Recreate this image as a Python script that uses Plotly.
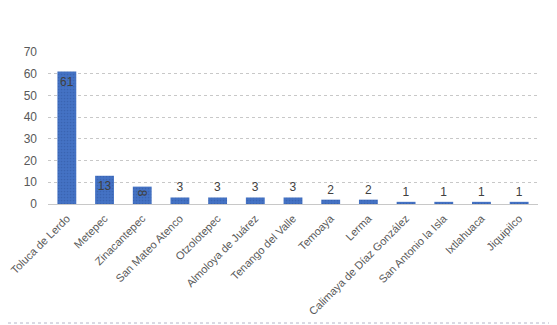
import plotly.graph_objects as go

municipios = ["Toluca de Lerdo", "Metepec", "Zinacantepec", "San Mateo Atenco", "Otzolotepec",
              "Almoloya de Juárez", "Tenango del Valle", "Temoaya", "Lerma",
              "Calimaya de Díaz González", "San Antonio la Isla", "Ixtlahuaca", "Jiquipilco"]
valores = [61, 13, 8, 3, 3, 3, 3, 2, 2, 1, 1, 1, 1]
y_ticks = [0, 10, 20, 30, 40, 50, 60, 70]

# page body has an 8px offset; size the figure to fill the rest of the window
OFF = 8
W, H = 557 - OFF, 325 - OFF
ml, mr, mt, mb = 48 - OFF, 19, 52 - OFF, 121
pw, ph = W - ml - mr, H - mt - mb

fig = go.Figure(go.Bar(
    x=municipios, y=valores,
    text=[str(v) for v in valores],
    textposition=["inside" if v >= 8 else "outside" for v in valores],
    insidetextanchor="end",
    constraintext="none",
    textfont=dict(family="Liberation Sans, Arial", size=12, color="#404040"),
    marker=dict(color="#4472C4", line=dict(width=0),
                pattern=dict(shape=".", fgcolor="#2f55a0", size=3, solidity=0.25)),
    cliponaxis=False,
))

fig.update_layout(
    width=W, height=H,
    margin=dict(l=ml, r=mr, t=mt, b=mb, autoexpand=False),
    paper_bgcolor="white", plot_bgcolor="white",
    bargap=0.5,
    showlegend=False,
    font=dict(family="Liberation Sans, Arial", size=11, color="#595959"),
    xaxis=dict(tickangle=-45, showgrid=False, showline=False, ticks="", automargin=False,
               ticklabelstandoff=5,
               tickfont=dict(size=11, color="#595959")),
    yaxis=dict(range=[0, 70], tickvals=y_ticks, showgrid=True, gridcolor="#c8c8c8",
               griddash="dot", zeroline=True, zerolinecolor="#c8c8c8", zerolinewidth=1,
               showline=False, ticks="", ticklabelstandoff=10, automargin=False,
               tickfont=dict(size=12, color="#595959")),
    shapes=[dict(type="line", xref="paper", yref="paper",
                 x0=1 + (mr - 3) / pw, x1=1 + (mr - 3) / pw,
                 y0=-(mb - 2) / ph, y1=1 + mt / ph,
                 line=dict(color="#b4b4c8", width=1, dash="dot")),
            dict(type="line", xref="paper", yref="paper",
                 x0=-ml / pw, x1=1 + (mr - 3) / pw,
                 y0=-(mb - 2) / ph, y1=-(mb - 2) / ph,
                 line=dict(color="#b4b4c8", width=1, dash="dot"))],
)

fig.write_html("out.html")
